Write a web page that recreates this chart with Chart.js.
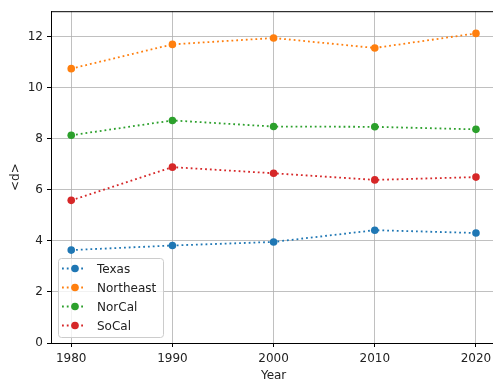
<!DOCTYPE html>
<html>
<head>
<meta charset="utf-8">
<script src="https://cdn.jsdelivr.net/npm/chart.js@4"></script>
<style>
  html, body { margin: 0; padding: 0; background: #fff; overflow: hidden; }
  #wrap { width: 500px; height: 385px; position: relative; }
</style>
</head>
<body>
<div id="wrap"><canvas id="chart"></canvas></div>
<script>
const years = [1980, 1990, 2000, 2010, 2020];
const texas = [3.64, 3.82, 3.96, 4.42, 4.31];
const northeast = [10.75, 11.70, 11.95, 11.56, 12.13];
const norcal = [8.14, 8.72, 8.48, 8.47, 8.37];
const socal = [5.59, 6.89, 6.65, 6.39, 6.50];
const yTicks = [0, 2, 4, 6, 8, 10, 12];

const seriesNames = ['Texas', 'Northeast', 'NorCal', 'SoCal'];
const seriesValues = [texas, northeast, norcal, socal];
const colors = ['#1f77b4', '#ff7f0e', '#2ca02c', '#d62728'];

const font = { family: 'DejaVu Sans', size: 12 };

// matplotlib-like legend box, inside the plot at lower left
const boxLegend = {
    id: 'boxLegend',
    afterDraw(chart) {
        const ctx = chart.ctx;
        const a = chart.chartArea;
        const x = a.left + 7, y = a.bottom - 6 - 79, w = 105, h = 79;
        ctx.save();
        ctx.fillStyle = 'rgba(255,255,255,0.8)';
        ctx.strokeStyle = '#cccccc';
        ctx.lineWidth = 1;
        ctx.beginPath();
        ctx.roundRect(x + 0.5, y + 0.5, w, h, 3);
        ctx.fill();
        ctx.stroke();
        chart.data.datasets.forEach((ds, i) => {
            const cy = y + 10.5 + i * 19;
            ctx.strokeStyle = ds.borderColor;
            ctx.lineWidth = 1.8;
            ctx.setLineDash([1.8, 3]);
            ctx.beginPath();
            ctx.moveTo(x + 4, cy);
            ctx.lineTo(x + 28, cy);
            ctx.stroke();
            ctx.setLineDash([]);
            ctx.fillStyle = ds.backgroundColor;
            ctx.beginPath();
            ctx.arc(x + 17, cy, 3.8, 0, Math.PI * 2);
            ctx.fill();
            ctx.fillStyle = '#222';
            ctx.font = '12px "DejaVu Sans"';
            ctx.textBaseline = 'middle';
            ctx.fillText(ds.label, x + 39, cy + 1);
        });
        ctx.restore();
    }
};

// top spine
const topSpine = {
    id: 'topSpine',
    afterDraw(chart) {
        const a = chart.chartArea;
        const ctx = chart.ctx;
        ctx.save();
        ctx.strokeStyle = '#000';
        ctx.lineWidth = 1;
        ctx.beginPath();
        ctx.moveTo(a.left, a.top + 0.5);
        ctx.lineTo(a.right, a.top + 0.5);
        ctx.stroke();
        ctx.restore();
    }
};

new Chart(document.getElementById('chart'), {
    type: 'line',
    data: {
        datasets: seriesNames.map((name, i) => ({
            label: name,
            data: years.map((yr, j) => ({ x: yr, y: seriesValues[i][j] })),
            borderColor: colors[i],
            backgroundColor: colors[i],
            borderWidth: 1.8,
            borderDash: [1.8, 3],
            pointRadius: 3.8,
            pointBorderWidth: 0,
            pointHoverRadius: 3.8,
            tension: 0
        }))
    },
    options: {
        responsive: true,
        maintainAspectRatio: false,
        animation: false,
        layout: { padding: { top: 10, right: 1, left: 0, bottom: 0 } },
        plugins: {
            legend: { display: false },
            tooltip: { enabled: false }
        },
        scales: {
            x: {
                type: 'linear',
                min: 1978,
                max: 2022,
                afterBuildTicks: s => { s.ticks = years.map(v => ({ value: v })); },
                afterFit: s => { s.height = 42; },
                ticks: { font: font, color: '#222', padding: 5, maxRotation: 0,
                         callback: v => String(v) },
                grid: { color: '#b0b0b0', lineWidth: 0.8, tickLength: 4, tickColor: '#000', tickWidth: 1 },
                border: { color: '#000', width: 1 },
                title: { display: true, text: 'Year', font: font, color: '#222', padding: { top: 0, bottom: 2 } }
            },
            y: {
                min: 0,
                max: 13,
                afterBuildTicks: s => { s.ticks = yTicks.map(v => ({ value: v })); },
                afterFit: s => { s.width = 51; },
                ticks: { font: font, color: '#222', padding: 4 },
                grid: { color: '#b0b0b0', lineWidth: 0.8, tickLength: 4, tickColor: '#000', tickWidth: 1 },
                border: { color: '#000', width: 1 },
                title: { display: true, text: '<d>', font: font, color: '#222', padding: { top: 9, bottom: 0 } }
            }
        }
    },
    plugins: [boxLegend, topSpine]
});
</script>
</body>
</html>
